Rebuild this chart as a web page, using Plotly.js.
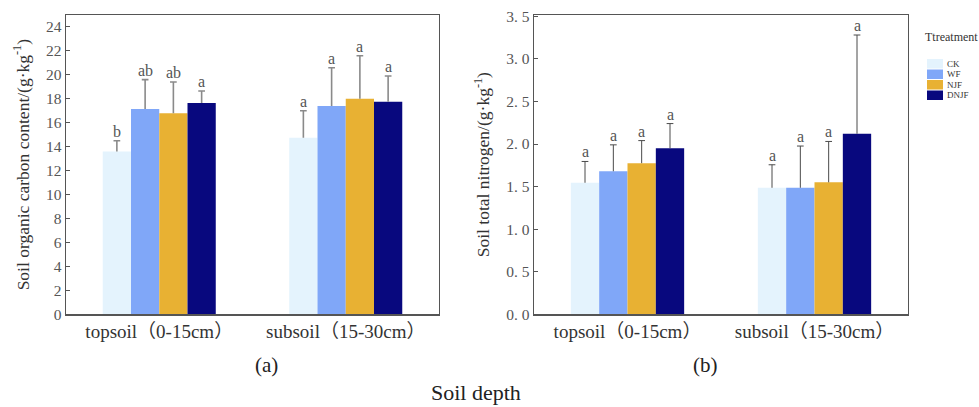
<!DOCTYPE html>
<html>
<head>
<meta charset="utf-8">
<script src="https://cdn.plot.ly/plotly-3.0.1.min.js"></script>
<style>html,body{margin:0;padding:0;background:#fff;}#chart{width:979px;height:407px;}</style>
</head>
<body>
<div id="chart"></div>
<script>
// ---- data ----
const categories = ["topsoil（0-15cm）", "subsoil（15-30cm）"];
const treatments = ["CK", "WF", "NJF", "DNJF"];
const colors = ["#E4F3FD", "#80A7F8", "#E8B133", "#08087E"];

// (a) Soil organic carbon content, g/kg
const socMean = { CK: [13.6, 14.75], WF: [17.15, 17.4], NJF: [16.8, 18.0], DNJF: [17.65, 17.75] };
const socErr  = { CK: [0.9, 2.25],   WF: [2.45, 3.2],   NJF: [2.6, 3.6],   DNJF: [1.0, 2.15] };
const socSig  = { CK: ["b", "a"], WF: ["ab", "a"], NJF: ["ab", "a"], DNJF: ["a", "a"] };

// (b) Soil total nitrogen, g/kg
const tnMean = { CK: [1.545, 1.486], WF: [1.68, 1.486], NJF: [1.775, 1.55], DNJF: [1.95, 2.12] };
const tnErr  = { CK: [0.25, 0.27],  WF: [0.31, 0.49],  NJF: [0.265, 0.48], DNJF: [0.29, 1.16] };
const tnSig  = { CK: ["a", "a"], WF: ["a", "a"], NJF: ["a", "a"], DNJF: ["a", "a"] };

const socTickVals = [0,2,4,6,8,10,12,14,16,18,20,22,24];
const tnTickVals = [0,0.5,1.0,1.5,2.0,2.5,3.0,3.5];
const tnTickText = ["0. 0","0. 5","1. 0","1. 5","2. 0","2. 5","3. 0","3. 5"];

// ---- styling ----
const serif = "'Liberation Serif', 'Times New Roman', 'Noto Sans CJK SC', serif";
const BARGAP = 0.394;
const nT = treatments.length;
const barW = (1 - BARGAP) / nT;
const CAP = 0.018; // half cap width in category units

const traces = [];
const annotations = [];
const shapes = [];

function addPanel(mean, err, sig, xa, ya, errColor, errThick) {
  treatments.forEach((t, i) => {
    traces.push({
      type: "bar", name: t, x: categories, y: mean[t],
      xaxis: xa, yaxis: ya, showlegend: false,
      marker: { color: colors[i], line: { width: 0 } },
      hoverinfo: "skip"
    });
    categories.forEach((c, j) => {
      const xc = j - 0.5 * (1 - BARGAP) + barW * (i + 0.5);
      const top = mean[t][j] + err[t][j];
      shapes.push({ type: "line", xref: xa, yref: ya, x0: xc, x1: xc, y0: mean[t][j], y1: top,
        line: { color: errColor, width: errThick }, layer: "above" });
      shapes.push({ type: "line", xref: xa, yref: ya, x0: xc - CAP, x1: xc + CAP, y0: top, y1: top,
        line: { color: errColor, width: errThick }, layer: "above" });
      annotations.push({
        xref: xa, yref: ya, x: xc, y: top,
        text: sig[t][j], showarrow: false, yanchor: "bottom", yshift: -1,
        font: { family: serif, size: 16, color: "#555" }
      });
    });
  });
}

addPanel(socMean, socErr, socSig, "x", "y", "#8a8a8a", 1.6);
addPanel(tnMean, tnErr, tnSig, "x2", "y2", "#4a4a4a", 1.0);

const axisCommon = {
  showline: true, mirror: true, linecolor: "#555", linewidth: 1.3,
  showgrid: false, zeroline: false, fixedrange: true
};

annotations.push({ xref: "paper", yref: "paper", x: 253/979, y: 1 - 365/407, text: "(a)", showarrow: false,
  yanchor: "middle", font: { family: serif, size: 21, color: "#222" } });
annotations.push({ xref: "paper", yref: "paper", x: 720/979, y: 1 - 365/407, text: "(b)", showarrow: false,
  yanchor: "middle", font: { family: serif, size: 21, color: "#222" } });
annotations.push({ xref: "paper", yref: "paper", x: 476/979, y: 1 - 392/407, text: "Soil depth", showarrow: false,
  yanchor: "middle", font: { family: serif, size: 22, color: "#222" } });

// custom legend
annotations.push({ xref: "paper", yref: "paper", x: 923/979, y: 1 - 37/407, xanchor: "left", yanchor: "middle",
  text: "Ttreatment", showarrow: false, font: { family: serif, size: 12, color: "#333" } });
treatments.forEach((t, i) => {
  const yTop = 59 + i * 10.5, yBot = yTop + 9.5;
  shapes.push({ type: "rect", xref: "paper", yref: "paper", x0: 927/979, x1: 943/979,
    y0: 1 - yBot/407, y1: 1 - yTop/407, fillcolor: colors[i], line: { width: 0 } });
  annotations.push({ xref: "paper", yref: "paper", x: 945/979, y: 1 - (yTop + 4.75)/407,
    xanchor: "left", yanchor: "middle",
    text: t, showarrow: false, font: { family: serif, size: 9, color: "#333" } });
});

const yDom = [1 - 314.3/407, 1 - 15/407];
const layout = {
  width: 979, height: 407,
  margin: { l: 0, r: 0, t: 0, b: 0 },
  paper_bgcolor: "#fff", plot_bgcolor: "#fff",
  barmode: "group", bargap: BARGAP, bargroupgap: 0,
  showlegend: false,
  font: { family: serif, color: "#444" },
  xaxis: Object.assign({}, axisCommon, { domain: [66/979, 439/979], anchor: "y", range: [-0.5, 1.5],
    ticks: "", tickfont: { family: serif, size: 19, color: "#333" } }),
  yaxis: Object.assign({}, axisCommon, { domain: yDom, anchor: "x", range: [0, 25],
    tickvals: socTickVals, ticks: "inside", ticklen: 4, tickcolor: "#555",
    tickfont: { family: serif, size: 15.5, color: "#555" },
    title: { text: "Soil organic carbon content/(g·kg<sup>-1</sup>)", standoff: 12,
      font: { family: serif, size: 17.5, color: "#333" } } }),
  xaxis2: Object.assign({}, axisCommon, { domain: [534/979, 908/979], anchor: "y2", range: [-0.5, 1.5],
    ticks: "", tickfont: { family: serif, size: 19, color: "#333" } }),
  yaxis2: Object.assign({}, axisCommon, { domain: yDom, anchor: "x2", range: [0, 3.515],
    tickvals: tnTickVals, ticktext: tnTickText, ticks: "inside", ticklen: 4, tickcolor: "#555",
    tickfont: { family: serif, size: 15.5, color: "#555" },
    title: { text: "Soil total nitrogen/(g·kg<sup>-1</sup>)", standoff: 12,
      font: { family: serif, size: 17.5, color: "#333" } } }),
  annotations: annotations,
  shapes: shapes
};

Plotly.newPlot("chart", traces, layout, { displayModeBar: false, staticPlot: true });
</script>
</body>
</html>
